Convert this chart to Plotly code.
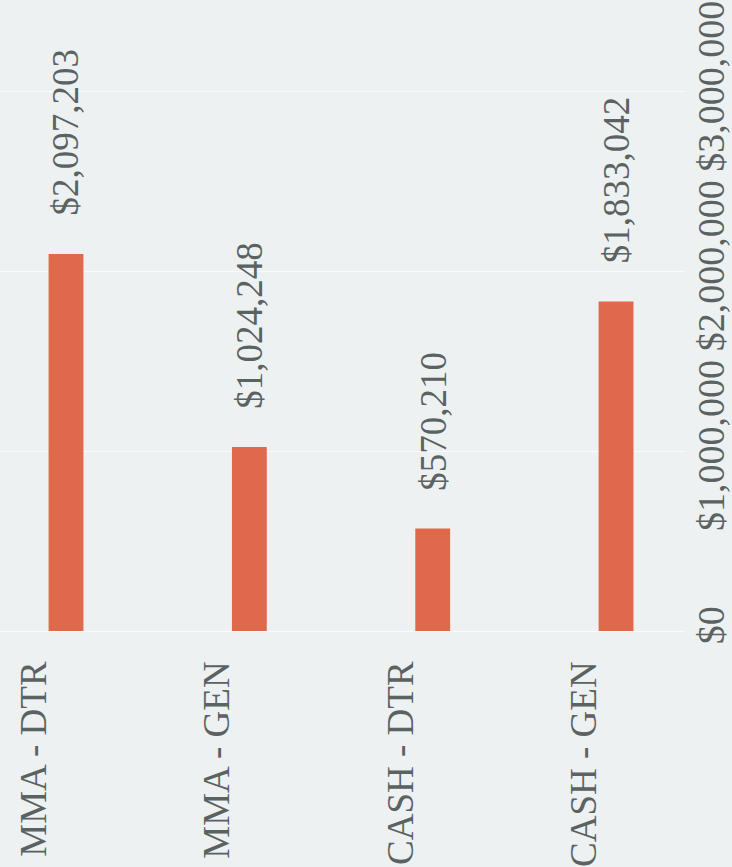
import plotly.graph_objects as go

categories = ["MMA - DTR", "MMA - GEN", "CASH - DTR", "CASH - GEN"]
values = [2097203, 1024248, 570210, 1833042]
tick_values = [0, 1000000, 2000000, 3000000]
tick_labels = ["$0", "$1,000,000", "$2,000,000", "$3,000,000"]

FONT = "Liberation Serif"
TEXT_COLOR = "#5b6262"
BAR_COLOR = "#e0684d"
BG = "#edf1f1"

fig = go.Figure()
fig.add_trace(go.Bar(
    x=categories, y=values, width=0.19,
    marker=dict(color=BAR_COLOR, line=dict(width=0)),
))

for c, v in zip(categories, values):
    fig.add_annotation(
        x=c, y=v, xref="x", yref="y", text=f"${v:,.0f}",
        textangle=-90, showarrow=False, yanchor="bottom", xanchor="center",
        yshift=36, font=dict(family=FONT, size=37, color=TEXT_COLOR),
    )

fig.update_layout(
    width=732, height=867,
    margin=dict(l=0, r=42, t=2, b=233),
    paper_bgcolor=BG, plot_bgcolor=BG,
    showlegend=False,
    font=dict(family=FONT, size=37, color=TEXT_COLOR),
)
fig.update_xaxes(
    range=[-0.36, 3.376], tickangle=-90, ticklabelshift=-32, ticklabelstandoff=22,
    showgrid=False, showline=False, ticks="",
    tickfont=dict(family=FONT, size=37, color=TEXT_COLOR),
)
fig.update_yaxes(
    range=[0, 3500000], side="right", tickangle=-90,
    tickvals=tick_values, ticktext=tick_labels,
    showgrid=True, gridcolor="#fafbfb", gridwidth=1,
    zeroline=True, zerolinecolor="#fafbfb", zerolinewidth=1,
    showline=False, ticks="",
    tickfont=dict(family=FONT, size=38, color=TEXT_COLOR),
)

fig.write_html("out.html")
